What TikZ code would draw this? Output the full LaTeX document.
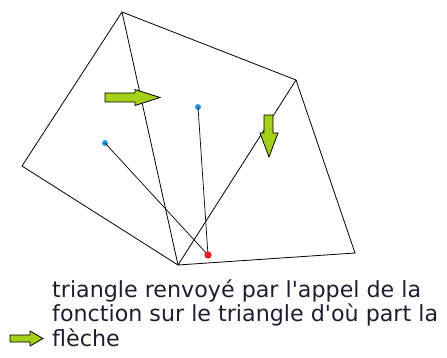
\documentclass[tikz,border=0pt]{standalone}
\usepackage{fontspec}
\setmainfont{DejaVu Sans}
\definecolor{arrowGreen}{HTML}{A4D019}
\definecolor{dotBlue}{HTML}{1E9BE8}
\definecolor{dotRed}{HTML}{E8202A}
\definecolor{txtDark}{HTML}{1E1E30}

\begin{document}
\begin{tikzpicture}[x=1pt,y=-1pt,
  edge/.style={black,line width=0.8pt},
  ray/.style={black,line width=0.7pt},
  bluedot/.style={circle,fill=dotBlue,inner sep=0pt,minimum size=6pt},
  reddot/.style={circle,fill=dotRed,inner sep=0pt,minimum size=7pt},
  garrow/.style={fill=arrowGreen,draw=black,line width=0.8pt,line join=miter},
  lbl/.style={txtDark,font=\fontsize{22.2}{24.5}\selectfont,anchor=base west,inner sep=0pt}]
  \useasboundingbox (0,0) rectangle (447,358);
  % mesh vertices
  \coordinate (top) at (122,12);
  \coordinate (right) at (296,80);
  \coordinate (corner) at (355,253);
  \coordinate (bottom) at (178,265);
  \coordinate (left) at (22,166);
  % triangle edges
  \draw[edge] (top) -- (right) -- (corner) -- (bottom) -- (left) -- cycle;
  \draw[edge] (top) -- (bottom);
  \draw[edge] (right) -- (bottom);
  % points and their rays
  \node[bluedot] (p1) at (105,143) {};
  \node[bluedot] (p2) at (198,107) {};
  \node[reddot] (q) at (208,255) {};
  \draw[ray] (p1.center) -- (q.center);
  \draw[ray] (p2.center) -- (q.center);
  \node[reddot] at (q) {};
  % green arrows
  \draw[garrow] (105,93) -- (135,93) -- (135,89.5) -- (160,97.5) -- (135,105.5) -- (135,102) -- (105,102) -- cycle;
  \draw[garrow] (264,115) -- (273,115) -- (273,133) -- (278,133) -- (269,157) -- (260,133) -- (264,133) -- cycle;
  % legend
  \draw[garrow] (10,335) -- (30,335) -- (30,331) -- (43,338.5) -- (30,346) -- (30,342) -- (10,342) -- cycle;
  \node[lbl] (legend1) at (52,297) {triangle renvoyé par l\textquotesingle appel de la};
  \node[lbl] (legend2) at (52,321.5) {fonction sur le triangle d\textquotesingle où part la};
  \node[lbl] (legend3) at (52,346) {flèche};
\end{tikzpicture}
\end{document}
